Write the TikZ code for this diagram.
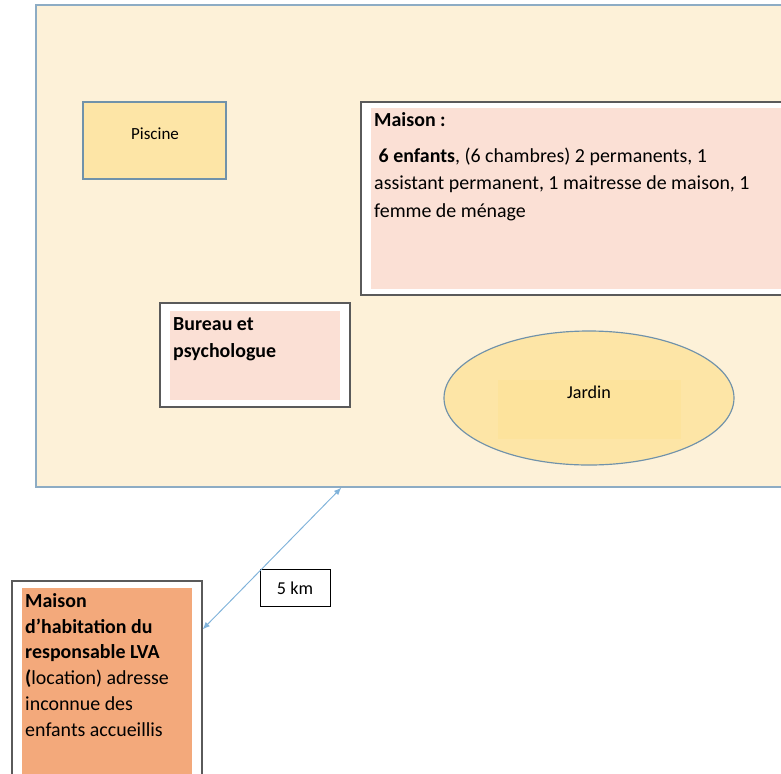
\documentclass[tikz,border=0pt]{standalone}
\usepackage{fontspec}
\setmainfont{Carlito}
\usepackage{tikz}
\usetikzlibrary{arrows.meta,positioning,calc,fit}
\definecolor{sitecream}{HTML}{FDF1D8}
\definecolor{siteblue}{HTML}{8DACC4}
\definecolor{poolyellow}{HTML}{FDE5A6}
\definecolor{poolblue}{HTML}{7092AA}
\definecolor{roompink}{HTML}{FBE0D5}
\definecolor{lvaorange}{HTML}{F3A97B}
\definecolor{gardenpatch}{HTML}{FDE39C}
\definecolor{kmblue}{HTML}{7FB2DA}
\definecolor{boxgrey}{HTML}{5A5A5A}
\tikzset{
  sitebox/.style={draw=siteblue,fill=sitecream,line width=1.2pt,inner sep=0pt},
  poolbox/.style={draw=poolblue,fill=poolyellow,line width=1pt,inner sep=0pt},
  framebox/.style={draw=boxgrey,fill=white,line width=1.1pt,inner sep=0pt},
  fillpatch/.style={fill=#1,inner sep=0pt},
  smalltext/.style={font=\fontsize{14.5}{17}\selectfont},
  bodytext/.style={font=\fontsize{17}{#1}\selectfont,align=left,anchor=north west,inner sep=0pt},
  distarrow/.style={{Latex[length=2.2mm,width=1.8mm]}-{Latex[length=2.2mm,width=1.8mm]},draw=kmblue,line width=0.8pt}
}
\begin{document}
\begin{tikzpicture}[x=0.03cm,y=-0.03cm]
  \useasboundingbox (0,0) rectangle (781,773);
  \clip (0,0) rectangle (781,773);
  \node[sitebox,fit={(36,5)(800,487)}] (site) {};
  \node[poolbox,fit={(83,102)(226,179)}] (pool) {};
  \node[smalltext] at (155,134) (pooltext) {Piscine};
  \node[framebox,fit={(361,102)(800,295)}] (house) {};
  \node[fillpatch=roompink,fit={(371,108)(800,289)}] (houseinner) {};
  \node[font=\fontsize{17}{23}\selectfont,anchor=base west,inner sep=0pt] at (374,126) (housetitle) {\textbf{Maison :}};
  \node[bodytext=23.4] at (374,143) (housetext) {\strut\ \textbf{6 enfants}, (6 chambres) 2 permanents, 1\\
    assistant permanent, 1 maitresse de maison, 1\\
    femme de ménage};
  \node[framebox,fit={(160,303)(350,407)}] (office) {};
  \node[fillpatch=roompink,fit={(170,311)(340,400)}] (officeinner) {};
  \node[bodytext=23] at (173,311) (officetext) {\strut\textbf{Bureau et}\\\textbf{psychologue}};
  \draw[poolbox] (589,398) ellipse (145 and 67);
  \node[fillpatch=gardenpatch,fit={(498,380)(681,439)}] (garden) {};
  \node[font=\fontsize{15.5}{18}\selectfont] at (589,392) (gardentext) {Jardin};
  \node[framebox,fit={(12,581)(202,790)}] (lva) {};
  \node[fillpatch=lvaorange,fit={(22,588)(192,790)}] (lvainner) {};
  \node[bodytext=22] at (25,589) (lvatext) {\strut\textbf{Maison}\\
    \textbf{d’habitation du}\\
    \textbf{responsable LVA}\\
    \textbf{(}location) adresse\\
    inconnue des\\
    enfants accueillis};
  \node[draw=black,fill=white,line width=0.8pt,minimum width=70*0.03cm,minimum height=37*0.03cm,font=\fontsize{15.5}{18}\selectfont] at (295,588) (dist) {5 km};
  \draw[distarrow] ($(site.south west)+(306,0)$) -- ($(lva.north east)+(0,49)$);
\end{tikzpicture}
\end{document}
